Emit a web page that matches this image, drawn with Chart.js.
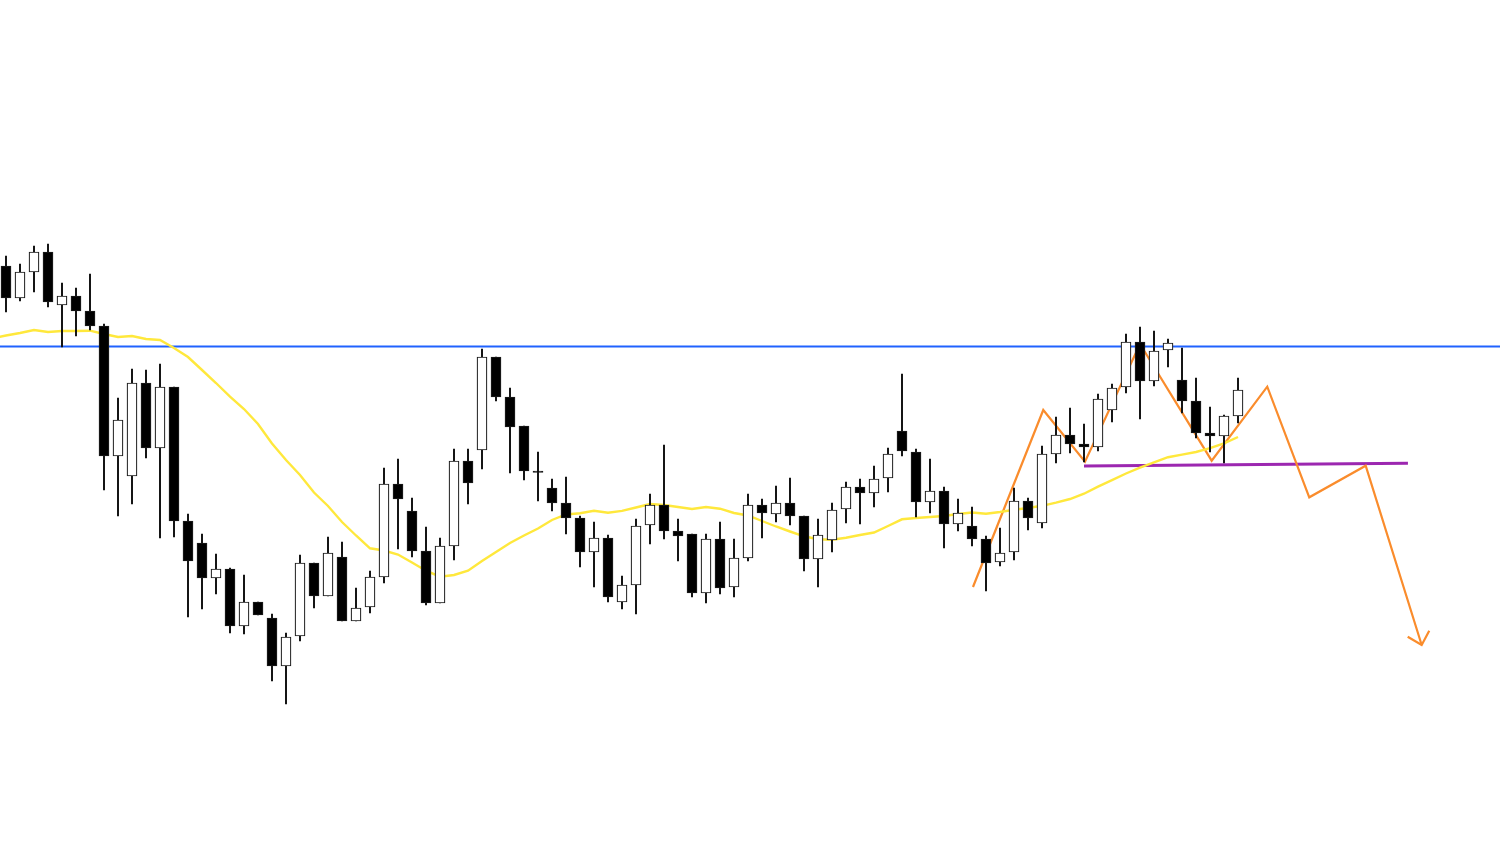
<!DOCTYPE html>
<html>
<head>
<meta charset="utf-8">
<script src="https://cdn.jsdelivr.net/npm/chart.js@4"></script>
<style>
html,body{margin:0;padding:0;background:#fff;}
#wrap{width:1500px;height:848px;position:relative;}
</style>
</head>
<body>
<div id="wrap"><canvas id="c"></canvas></div>
<script>
// Candle data (arbitrary price units), one entry per bar
const opens  = [582,550,576,596,543,552,537,522,392,372,465,400,461,327,305,270,279,222,246,230,182,212,285,252,291,227,241,271,364,337,297,245,302,387,398,491,451,422,377,360,345,330,296,310,246,263,323,343,317,314,255,309,261,290,343,334,345,332,289,308,339,361,355,370,417,396,346,357,324,322,309,286,296,347,325,394,413,404,401,438,461,506,467,498,468,447,415,412,432];
const highs  = [592,584,602,604,565,560,574,524,450,479,478,484,461,334,314,294,280,273,246,234,215,293,285,311,306,260,277,380,389,350,321,310,399,399,499,491,460,422,396,369,371,332,326,313,272,329,354,403,329,314,314,326,309,354,349,362,370,332,329,345,366,369,382,400,474,399,389,361,349,341,312,320,360,350,402,431,440,424,454,464,514,521,517,509,500,470,441,433,470];
const lows   = [536,547,556,541,501,512,518,358,332,344,390,310,311,231,239,254,215,214,233,167,144,207,240,252,227,227,235,265,299,291,243,245,288,344,379,447,375,368,347,337,314,281,261,246,239,234,304,309,287,251,245,254,251,287,310,326,323,277,261,296,325,324,341,356,392,331,335,300,317,302,257,282,288,318,320,385,395,386,397,426,455,429,462,481,435,410,396,385,425];
const closes = [550,576,596,546,552,537,522,392,428,465,400,461,327,287,270,279,222,246,233,182,211,285,252,295,227,240,271,364,349,297,245,302,387,365,491,451,421,377,375.5,345,330,296,310,251,263,322,343,317,312,255,309,260,290,343,335,345,332,289,313,338,361,355,369,394,397,346,357,324,335,309,285,295,347,330,394,413,404,401,449,460,506,467,497,505,447,415,412,432,458];
// Moving average line, starting one bar before the first visible candle
const maStartIndex = -1;
const maValues = [509.7,512.5,515,518,516,517,517,517.3,514,511,512,509,508,500,491,478,465,451.3,439,424,404.5,388,373,355.5,342,326,312.5,299.7,297.5,293.5,285.5,277.3,271.3,273,277.3,287,296,305,312.5,319.5,328,333.5,334.7,337.2,335.3,337.1,340.5,344,343,341,339,341,339.3,335,332.5,327,321.5,316.5,311.7,308.8,308.3,310.2,313,315.5,322,328.7,330,331,332,334,335.5,334.3,336,338.3,340,342.2,345.4,349,354.3,361.4,367.8,374.5,380.3,385.7,390.8,393.4,396,399.8,404.7,411];
// Horizontal resistance level
const resistanceLevel = 501.5;
// Neckline (bar index, price)
const necklineX = [77, 100.14];
const necklineY = [382, 384.7];
// Projected zigzag path (bar index, price)
const pathX = [69.07, 74.09, 77.07, 81.0, 86.12, 90.09, 93.09, 97.12, 101.12];
const pathY = [261, 438, 386.3, 504, 387.3, 461.3, 350.7, 382.3, 203];
// Arrow head (bar index, price)
const arrowX = [100.12, 101.12, 101.66];
const arrowY = [211.3, 203, 217.3];

const XMIN = -0.4286, XMAX = 106.714;
const YMIN = 0, YMAX = 848;

const n = opens.length;
const bodies = [], wicks = [], bodyFill = [];
for (let i = 0; i < n; i++) {
  bodies.push({x: i, y: [opens[i], closes[i]]});
  wicks.push({x: i, y: [lows[i], highs[i]]});
  bodyFill.push(closes[i] >= opens[i] ? '#ffffff' : '#000000');
}
const ma = maValues.map((v, k) => ({x: maStartIndex + k, y: v}));
const zip = (xs, ys) => xs.map((x, k) => ({x, y: ys[k]}));

new Chart(document.getElementById('c'), {
  type: 'bar',
  data: {
    datasets: [
      {type: 'bar', data: bodies, backgroundColor: bodyFill, borderColor: '#1a1a1a', borderWidth: 1.2, borderSkipped: false, barThickness: 10, grouped: false, order: 0},
      {type: 'bar', data: wicks, backgroundColor: '#111111', borderWidth: 0, barThickness: 1.3, grouped: false, order: 1},
      {type: 'line', data: ma, borderColor: '#ffe83c', borderWidth: 2.4, pointRadius: 0, tension: 0, order: 2},
      {type: 'line', data: zip(pathX, pathY), borderColor: '#fa8c2c', borderWidth: 2.2, pointRadius: 0, tension: 0, order: 3},
      {type: 'line', data: zip(arrowX, arrowY), borderColor: '#fa8c2c', borderWidth: 2.2, pointRadius: 0, tension: 0, order: 3},
      {type: 'line', data: zip(necklineX, necklineY), borderColor: '#9c27b0', borderWidth: 3, pointRadius: 0, tension: 0, order: 3},
      {type: 'line', data: [{x: XMIN, y: resistanceLevel}, {x: XMAX, y: resistanceLevel}], borderColor: '#2062ff', borderWidth: 2, pointRadius: 0, tension: 0, order: 4}
    ]
  },
  options: {
    responsive: true,
    maintainAspectRatio: false,
    animation: false,
    layout: {padding: 0},
    plugins: {legend: {display: false}, tooltip: {enabled: false}},
    scales: {
      x: {type: 'linear', min: XMIN, max: XMAX, offset: false, display: false},
      y: {type: 'linear', min: YMIN, max: YMAX, display: false}
    }
  }
});
</script>
</body>
</html>
